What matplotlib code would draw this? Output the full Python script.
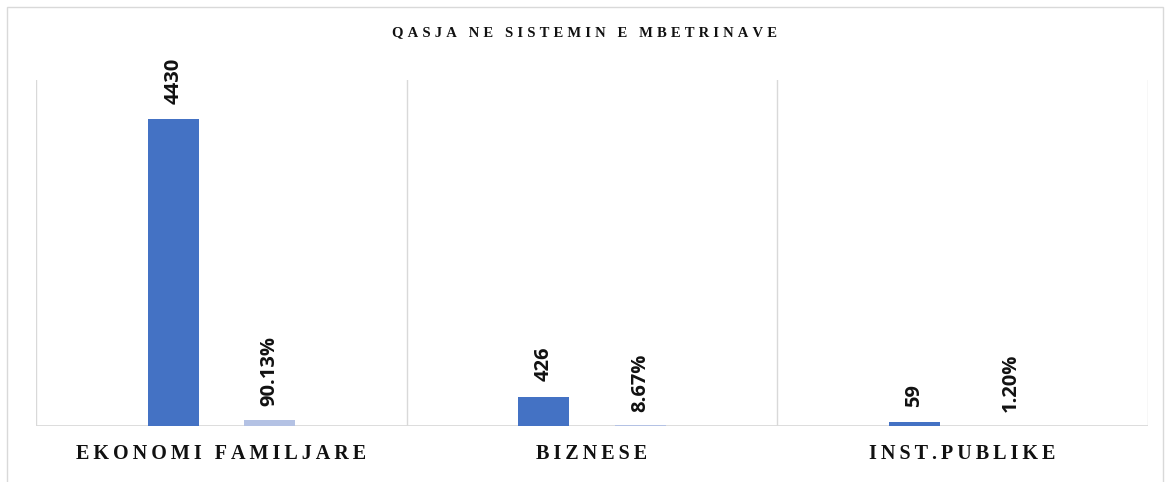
import matplotlib
matplotlib.use("Agg")
import matplotlib.pyplot as plt
from matplotlib.patches import Rectangle

categories = ["EKONOMI FAMILJARE", "BIZNESE", "INST.PUBLIKE"]
counts = [4430, 426, 59]
percents = [90.13, 8.67, 1.20]
count_labels = ["4430", "426", "59"]
percent_labels = ["90.13%", "8.67%", "1.20%"]
title = "QASJA NE SISTEMIN E MBETRINAVE"

def spaced(s, sp="\u2009"):
    return sp.join(list(s))

fig = plt.figure(figsize=(11.68, 4.82), dpi=100)
fig.patches.append(Rectangle((7/1168, -0.1), (1163-7)/1168, 1.1 - 7/482,
                             transform=fig.transFigure, fill=False,
                             edgecolor="#D9D9D9", linewidth=1.0))

ax = fig.add_axes([36/1168, 56/482, 1112/1168, 346/482])
x = list(range(len(categories)))
w = 0.137
off = 0.13
dark = "#4472C4"
light = "#B4C2E4"
b1 = ax.bar([i - off for i in x], counts, width=w, color=dark, zorder=3)
b2 = ax.bar([i + off for i in x], percents, width=w, color=light, zorder=3)

lab_font = dict(rotation=90, ha="center", va="bottom", fontsize=14.5,
                fontweight="bold", family=["Open Sans", "DejaVu Sans"],
                color="#111111")
for rect, lab in zip(b1, count_labels):
    ax.annotate(lab, (rect.get_x() + rect.get_width()/2, rect.get_height()),
                xytext=(0, 11), textcoords="offset points", **lab_font)
for rect, lab in zip(b2, percent_labels):
    ax.annotate(lab, (rect.get_x() + rect.get_width()/2, rect.get_height()),
                xytext=(0, 10), textcoords="offset points", **lab_font)

ax.set_xlim(-0.5, len(categories) - 0.5)
ax.set_ylim(0, 5000)
for b in [-0.5, 0.5, 1.5, 2.5]:
    ax.axvline(b, color="#D9D9D9", linewidth=1.0, zorder=1)
ax.axhline(0, color="#D9D9D9", linewidth=2.0, zorder=2)
for s in ax.spines.values():
    s.set_visible(False)
ax.set_yticks([])
ax.set_xticks(x)
ax.set_xticklabels([spaced(c) for c in categories],
                   family=["Liberation Serif", "DejaVu Serif"],
                   fontweight="bold", fontsize=14.5, color="#111111")
ax.tick_params(axis="x", length=0, pad=13)

fig.text(585/1168, 1 - 33/482, spaced(title, "\u2009\u200a"), ha="center",
         va="center", family=["Liberation Serif", "DejaVu Serif"],
         fontweight="bold", fontsize=10.5, color="#111111")

fig.savefig("out.png", dpi=100)
